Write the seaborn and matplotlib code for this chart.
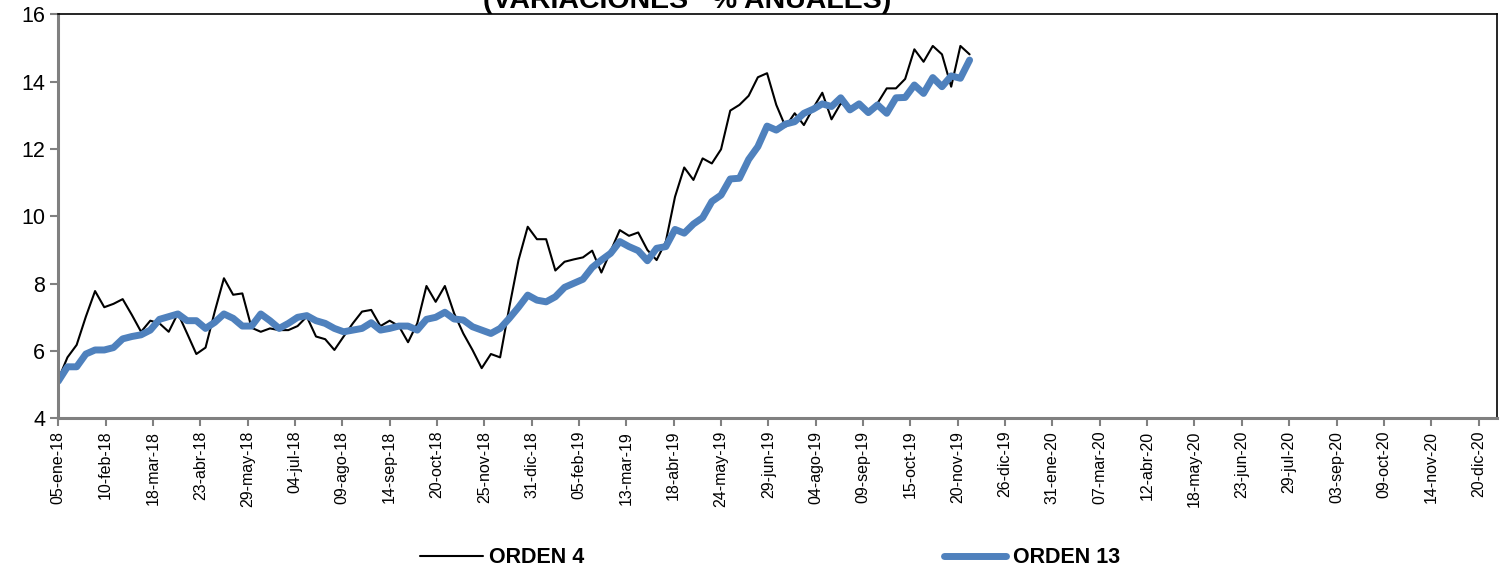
import pandas as pd
import matplotlib
matplotlib.use('Agg')
import matplotlib.pyplot as plt
import matplotlib.dates as mdates
import seaborn as sns

# ==================================================
# DATOS (semanales, desde 05-ene-18)
# ==================================================
fecha_inicio = '2018-01-05'

orden_4 = [
    5.15, 5.81, 6.18, 7.02, 7.78, 7.30, 7.40, 7.54, 7.07, 6.57,
    6.90, 6.82, 6.57, 7.12, 6.52, 5.91, 6.10, 7.17, 8.16, 7.67,
    7.71, 6.69, 6.57, 6.67, 6.62, 6.62, 6.74, 7.02, 6.43, 6.35,
    6.03, 6.43, 6.82, 7.17, 7.22, 6.74, 6.90, 6.74, 6.26, 6.82,
    7.93, 7.46, 7.93, 7.12, 6.52, 6.03, 5.49, 5.91, 5.81, 7.30,
    8.70, 9.69, 9.32, 9.32, 8.39, 8.65, 8.72, 8.78, 8.98, 8.33,
    8.96, 9.59, 9.42, 9.52, 9.00, 8.70, 9.25, 10.58, 11.45, 11.08,
    11.72, 11.57, 11.99, 13.14, 13.31, 13.58, 14.13, 14.25, 13.31, 12.66,
    13.06, 12.71, 13.21, 13.67, 12.88, 13.35, 13.25, 13.30, 13.15, 13.36,
    13.80, 13.80, 14.08, 14.96, 14.59, 15.06, 14.81, 13.85, 15.06, 14.81,
]

orden_13 = [
    5.10, 5.53, 5.53, 5.91, 6.03, 6.03, 6.10, 6.36, 6.43, 6.48,
    6.62, 6.94, 7.02, 7.10, 6.90, 6.90, 6.67, 6.85, 7.10, 6.97,
    6.74, 6.74, 7.10, 6.90, 6.67, 6.82, 7.00, 7.05, 6.90, 6.82,
    6.67, 6.57, 6.62, 6.67, 6.84, 6.62, 6.67, 6.74, 6.74, 6.62,
    6.94, 7.00, 7.15, 6.95, 6.92, 6.72, 6.62, 6.52, 6.67, 6.97,
    7.30, 7.66, 7.51, 7.46, 7.61, 7.89, 8.01, 8.13, 8.48, 8.70,
    8.90, 9.25, 9.10, 8.98, 8.68, 9.05, 9.10, 9.61, 9.50, 9.77,
    9.96, 10.44, 10.63, 11.11, 11.13, 11.69, 12.07, 12.68, 12.56, 12.74,
    12.81, 13.06, 13.18, 13.34, 13.26, 13.52, 13.16, 13.34, 13.08, 13.31,
    13.06, 13.52, 13.53, 13.90, 13.65, 14.12, 13.85, 14.17, 14.10, 14.64,
]

etiquetas_x = [
    '05-ene-18', '10-feb-18', '18-mar-18', '23-abr-18', '29-may-18', '04-jul-18',
    '09-ago-18', '14-sep-18', '20-oct-18', '25-nov-18', '31-dic-18', '05-feb-19',
    '13-mar-19', '18-abr-19', '24-may-19', '29-jun-19', '04-ago-19', '09-sep-19',
    '15-oct-19', '20-nov-19', '26-dic-19', '31-ene-20', '07-mar-20', '12-abr-20',
    '18-may-20', '23-jun-20', '29-jul-20', '03-sep-20', '09-oct-20', '14-nov-20',
    '20-dic-20',
]

titulo = '(VARIACIONES   % ANUALES)'
nombres = ['ORDEN 4', 'ORDEN 13']

meses = {'ene': 1, 'feb': 2, 'mar': 3, 'abr': 4, 'may': 5, 'jun': 6,
         'jul': 7, 'ago': 8, 'sep': 9, 'oct': 10, 'nov': 11, 'dic': 12}


def a_fecha(txt):
    d, m, a = txt.split('-')
    return pd.Timestamp(year=2000 + int(a), month=meses[m], day=int(d))


fechas = pd.date_range(fecha_inicio, periods=len(orden_4), freq='7D')
df = pd.DataFrame({'fecha': fechas, 'ORDEN 4': orden_4, 'ORDEN 13': orden_13})

# ==================================================
# GRAFICO
# ==================================================
sns.set_style('white')
plt.rcParams['font.family'] = ['Liberation Sans', 'DejaVu Sans']
plt.rcParams['text.color'] = 'black'
plt.rcParams['xtick.color'] = 'black'
plt.rcParams['ytick.color'] = 'black'

fig = plt.figure(figsize=(15.01, 5.81), dpi=100)
ax = fig.add_axes([0.0388, 0.28, 0.9585, 0.6954])

sns.lineplot(data=df, x='fecha', y='ORDEN 4', ax=ax, color='black', linewidth=1.5, label=nombres[0])
sns.lineplot(data=df, x='fecha', y='ORDEN 13', ax=ax, color='#4F81BD', linewidth=5, label=nombres[1])

ax.set_ylim(4, 16)
ax.set_yticks(range(4, 17, 2))
ax.set_xlim(pd.Timestamp('2018-01-05'), pd.Timestamp('2021-01-03'))
ax.set_xticks([mdates.date2num(a_fecha(t)) for t in etiquetas_x])
ax.set_xticklabels(etiquetas_x, rotation=90, fontsize=11.5)
ax.set_xlabel('')
ax.set_ylabel('')
ax.tick_params(axis='y', labelsize=15.5, length=6, color='#808080', labelcolor='black',
               width=1.5, direction='out', left=True)
ax.tick_params(axis='x', length=6, color='#808080', labelcolor='black',
               width=1.5, direction='out', bottom=True, pad=3)

for lado in ['left', 'bottom']:
    ax.spines[lado].set_color('#808080')
    ax.spines[lado].set_linewidth(2.2)
for lado in ['top', 'right']:
    ax.spines[lado].set_color('black')
    ax.spines[lado].set_linewidth(1.2)

ax.get_legend().remove()
handles, labels = ax.get_legend_handles_labels()
leg = fig.legend(handles, labels, ncol=2, loc='center', bbox_to_anchor=(0.513, 0.04),
                 frameon=False, prop={'weight': 'bold', 'size': 15.5},
                 handlelength=2.9, handletextpad=0.3, columnspacing=16.7)
for t in leg.get_texts():
    t.set_color('black')

fig.text(0.458, 0.9857, titulo, ha='center', va='baseline', fontsize=20.5,
         fontweight='bold', color='black')

plt.savefig('out.png', dpi=100)
